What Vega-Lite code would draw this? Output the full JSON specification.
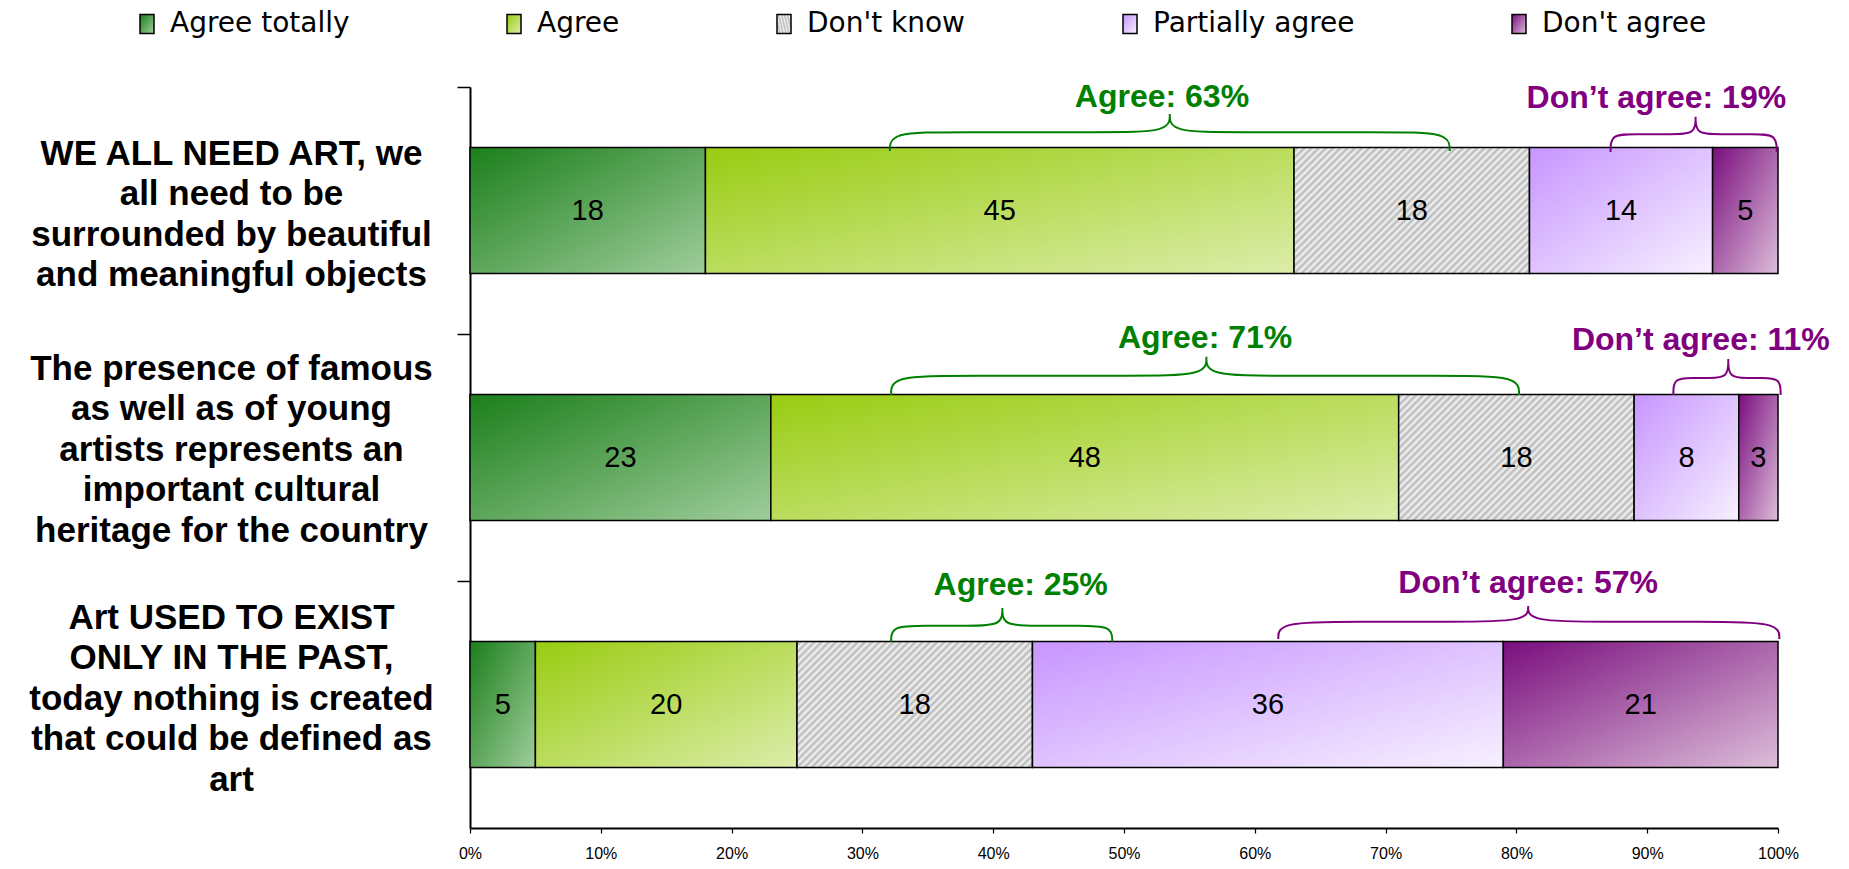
{
  "$schema": "https://vega.github.io/schema/vega-lite/v6.json",
  "autosize": {"type": "none"},
  "padding": {"left": 470, "top": 87, "right": 71, "bottom": 41},
  "width": 1308,
  "height": 741,
  "background": "white",
  "config": {"view": {"stroke": null}},
  "layer": [
    {
      "data": {
        "values": [
          {"q": "WE ALL NEED ART, we|all need to be|surrounded by beautiful|and meaningful objects", "r": "Agree totally", "o": 1, "v": 18},
          {"q": "WE ALL NEED ART, we|all need to be|surrounded by beautiful|and meaningful objects", "r": "Agree", "o": 2, "v": 45},
          {"q": "WE ALL NEED ART, we|all need to be|surrounded by beautiful|and meaningful objects", "r": "Don't know", "o": 3, "v": 18},
          {"q": "WE ALL NEED ART, we|all need to be|surrounded by beautiful|and meaningful objects", "r": "Partially agree", "o": 4, "v": 14},
          {"q": "WE ALL NEED ART, we|all need to be|surrounded by beautiful|and meaningful objects", "r": "Don't agree", "o": 5, "v": 5},
          {"q": "The presence of famous|as well as of young|artists represents an|important cultural|heritage for the country", "r": "Agree totally", "o": 1, "v": 23},
          {"q": "The presence of famous|as well as of young|artists represents an|important cultural|heritage for the country", "r": "Agree", "o": 2, "v": 48},
          {"q": "The presence of famous|as well as of young|artists represents an|important cultural|heritage for the country", "r": "Don't know", "o": 3, "v": 18},
          {"q": "The presence of famous|as well as of young|artists represents an|important cultural|heritage for the country", "r": "Partially agree", "o": 4, "v": 8},
          {"q": "The presence of famous|as well as of young|artists represents an|important cultural|heritage for the country", "r": "Don't agree", "o": 5, "v": 3},
          {"q": "Art USED TO EXIST|ONLY IN THE PAST,|today nothing is created|that could be defined as|art", "r": "Agree totally", "o": 1, "v": 5},
          {"q": "Art USED TO EXIST|ONLY IN THE PAST,|today nothing is created|that could be defined as|art", "r": "Agree", "o": 2, "v": 20},
          {"q": "Art USED TO EXIST|ONLY IN THE PAST,|today nothing is created|that could be defined as|art", "r": "Don't know", "o": 3, "v": 18},
          {"q": "Art USED TO EXIST|ONLY IN THE PAST,|today nothing is created|that could be defined as|art", "r": "Partially agree", "o": 4, "v": 36},
          {"q": "Art USED TO EXIST|ONLY IN THE PAST,|today nothing is created|that could be defined as|art", "r": "Don't agree", "o": 5, "v": 21}
        ]
      },
      "layer": [
        {
          "mark": {"type": "bar", "height": {"band": 0.51}, "stroke": "black", "strokeWidth": 1.5},
          "encoding": {
            "y": {
              "field": "q", "type": "nominal", "sort": null, "title": null,
              "scale": {"paddingInner": 0, "paddingOuter": 0},
              "axis": {
                "bandPosition": 0,
                "labelExpr": "split(datum.label, '|')",
                "labelAlign": "center",
                "labelBaseline": "middle",
                "labelPadding": 226,
                "labelOffset": {
                  "condition": [
                    {"test": "indexof(datum.value, 'WE ALL') === 0", "value": -57},
                    {"test": "indexof(datum.value, 'The presence') === 0", "value": -89}
                  ],
                  "value": -87
                },
                "labelFont": "Liberation Sans",
                "labelFontWeight": "bold",
                "labelFontSize": 35,
                "labelLineHeight": 40.5,
                "labelLimit": 0,
                "labelOverlap": false,
                "labelBound": false,
                "labelColor": "black",
                "tickSize": 13,
                "tickColor": "black",
                "tickWidth": 1.5,
                "domainColor": "black",
                "domainWidth": 2,
                "grid": false,
                "title": null
              }
            },
            "x": {
              "field": "v", "type": "quantitative", "stack": "zero", "title": null,
              "scale": {"domain": [0, 100], "nice": false},
              "axis": {
                "values": [0, 10, 20, 30, 40, 50, 60, 70, 80, 90, 100],
                "labelExpr": "datum.value + '%'",
                "labelFont": "Liberation Sans",
                "labelFontSize": 16,
                "labelColor": "black",
                "labelPadding": 12,
                "labelFlush": false,
                "labelOverlap": false,
                "tickColor": "black",
                "tickSize": 5,
                "tickWidth": 1.2,
                "domainColor": "black",
                "domainWidth": 2,
                "grid": false,
                "title": null
              }
            },
            "fill": {
              "field": "r", "type": "nominal", "title": null,
              "scale": {
                "domain": ["Agree totally", "Agree", "Don't know", "Partially agree", "Don't agree"],
                "range": [
                  {"expr": "{gradient:'linear',x1:0,y1:0,x2:1,y2:1,stops:[{offset:0,color:'#1b7f1b'},{offset:1,color:'#9fcd9b'}]}"},
                  {"expr": "{gradient:'linear',x1:0,y1:0,x2:1,y2:1,stops:[{offset:0,color:'#99cc11'},{offset:1,color:'#dcedaa'}]}"},
                  {"expr": "{gradient:'linear',x1:0,y1:0,x2:1.19,y2:0.637,stops:[{offset:0,color:'#f4f4f4'},{offset:0.01,color:'#b8b8b8'},{offset:0.02,color:'#f4f4f4'},{offset:0.03,color:'#b8b8b8'},{offset:0.04,color:'#f4f4f4'},{offset:0.05,color:'#b8b8b8'},{offset:0.06,color:'#f4f4f4'},{offset:0.07,color:'#b8b8b8'},{offset:0.08,color:'#f4f4f4'},{offset:0.09,color:'#b8b8b8'},{offset:0.1,color:'#f4f4f4'},{offset:0.11,color:'#b8b8b8'},{offset:0.12,color:'#f4f4f4'},{offset:0.13,color:'#b8b8b8'},{offset:0.14,color:'#f4f4f4'},{offset:0.15,color:'#b8b8b8'},{offset:0.16,color:'#f4f4f4'},{offset:0.17,color:'#b8b8b8'},{offset:0.18,color:'#f4f4f4'},{offset:0.19,color:'#b8b8b8'},{offset:0.2,color:'#f4f4f4'},{offset:0.21,color:'#b8b8b8'},{offset:0.22,color:'#f4f4f4'},{offset:0.23,color:'#b8b8b8'},{offset:0.24,color:'#f4f4f4'},{offset:0.25,color:'#b8b8b8'},{offset:0.26,color:'#f4f4f4'},{offset:0.27,color:'#b8b8b8'},{offset:0.28,color:'#f4f4f4'},{offset:0.29,color:'#b8b8b8'},{offset:0.3,color:'#f4f4f4'},{offset:0.31,color:'#b8b8b8'},{offset:0.32,color:'#f4f4f4'},{offset:0.33,color:'#b8b8b8'},{offset:0.34,color:'#f4f4f4'},{offset:0.35,color:'#b8b8b8'},{offset:0.36,color:'#f4f4f4'},{offset:0.37,color:'#b8b8b8'},{offset:0.38,color:'#f4f4f4'},{offset:0.39,color:'#b8b8b8'},{offset:0.4,color:'#f4f4f4'},{offset:0.41,color:'#b8b8b8'},{offset:0.42,color:'#f4f4f4'},{offset:0.43,color:'#b8b8b8'},{offset:0.44,color:'#f4f4f4'},{offset:0.45,color:'#b8b8b8'},{offset:0.46,color:'#f4f4f4'},{offset:0.47,color:'#b8b8b8'},{offset:0.48,color:'#f4f4f4'},{offset:0.49,color:'#b8b8b8'},{offset:0.5,color:'#f4f4f4'},{offset:0.51,color:'#b8b8b8'},{offset:0.52,color:'#f4f4f4'},{offset:0.53,color:'#b8b8b8'},{offset:0.54,color:'#f4f4f4'},{offset:0.55,color:'#b8b8b8'},{offset:0.56,color:'#f4f4f4'},{offset:0.57,color:'#b8b8b8'},{offset:0.58,color:'#f4f4f4'},{offset:0.59,color:'#b8b8b8'},{offset:0.6,color:'#f4f4f4'},{offset:0.61,color:'#b8b8b8'},{offset:0.62,color:'#f4f4f4'},{offset:0.63,color:'#b8b8b8'},{offset:0.64,color:'#f4f4f4'},{offset:0.65,color:'#b8b8b8'},{offset:0.66,color:'#f4f4f4'},{offset:0.67,color:'#b8b8b8'},{offset:0.68,color:'#f4f4f4'},{offset:0.69,color:'#b8b8b8'},{offset:0.7,color:'#f4f4f4'},{offset:0.71,color:'#b8b8b8'},{offset:0.72,color:'#f4f4f4'},{offset:0.73,color:'#b8b8b8'},{offset:0.74,color:'#f4f4f4'},{offset:0.75,color:'#b8b8b8'},{offset:0.76,color:'#f4f4f4'},{offset:0.77,color:'#b8b8b8'},{offset:0.78,color:'#f4f4f4'},{offset:0.79,color:'#b8b8b8'},{offset:0.8,color:'#f4f4f4'},{offset:0.81,color:'#b8b8b8'},{offset:0.82,color:'#f4f4f4'},{offset:0.83,color:'#b8b8b8'},{offset:0.84,color:'#f4f4f4'},{offset:0.85,color:'#b8b8b8'},{offset:0.86,color:'#f4f4f4'},{offset:0.87,color:'#b8b8b8'},{offset:0.88,color:'#f4f4f4'},{offset:0.89,color:'#b8b8b8'},{offset:0.9,color:'#f4f4f4'},{offset:0.91,color:'#b8b8b8'},{offset:0.92,color:'#f4f4f4'},{offset:0.93,color:'#b8b8b8'},{offset:0.94,color:'#f4f4f4'},{offset:0.95,color:'#b8b8b8'},{offset:0.96,color:'#f4f4f4'},{offset:0.97,color:'#b8b8b8'},{offset:0.98,color:'#f4f4f4'},{offset:0.99,color:'#b8b8b8'},{offset:1,color:'#f4f4f4'}]}"},
                  {"expr": "{gradient:'linear',x1:0,y1:0,x2:1,y2:1,stops:[{offset:0,color:'#c795ff'},{offset:1,color:'#f7f0ff'}]}"},
                  {"expr": "{gradient:'linear',x1:0,y1:0,x2:1,y2:1,stops:[{offset:0,color:'#7a0e7e'},{offset:1,color:'#dcbdd9'}]}"}
                ]
              },
              "legend": {
                "orient": "none",
                "legendX": -337,
                "legendY": -77,
                "direction": "horizontal",
                "title": null,
                "labelFont": "DejaVu Sans",
                "labelFontSize": 28,
                "labelColor": "black",
                "labelOffset": 9,
                "labelLimit": 0,
                "symbolType": "M-0.737,-1H0.737V1H-0.737Z",
                "symbolSize": 361,
                "symbolStrokeColor": "black",
                "symbolStrokeWidth": 1.5,
                "columnPadding": 150
              }
            },
            "order": {"field": "o", "type": "quantitative"}
          }
        },
        {
          "mark": {"type": "text", "font": "Liberation Sans", "fontSize": 29, "color": "black", "baseline": "middle", "align": "center"},
          "encoding": {
            "y": {"field": "q", "type": "nominal", "sort": null},
            "x": {"field": "v", "type": "quantitative", "stack": "zero", "bandPosition": 0.5, "scale": {"domain": [0, 100], "nice": false}},
            "detail": {"field": "r"},
            "order": {"field": "o", "type": "quantitative"},
            "text": {"field": "v", "type": "quantitative"}
          }
        }
      ]
    },
    {
      "layer": [
        {
          "data": {
            "values": [
              {"b": "B1", "side": "agree", "i": 0, "x": 32.1, "y": 0.259},
              {"b": "B1", "side": "agree", "i": 1, "x": 32.1, "y": 0.183},
              {"b": "B1", "side": "agree", "i": 2, "x": 37.1, "y": 0.183},
              {"b": "B1", "side": "agree", "i": 3, "x": 48.5, "y": 0.183},
              {"b": "B1", "side": "agree", "i": 4, "x": 53.5, "y": 0.183},
              {"b": "B1", "side": "agree", "i": 5, "x": 53.5, "y": 0.109},
              {"b": "B1", "side": "agree", "i": 6, "x": 53.5, "y": 0.109},
              {"b": "B1", "side": "agree", "i": 7, "x": 53.5, "y": 0.109},
              {"b": "B1", "side": "agree", "i": 8, "x": 53.5, "y": 0.183},
              {"b": "B1", "side": "agree", "i": 9, "x": 58.5, "y": 0.183},
              {"b": "B1", "side": "agree", "i": 10, "x": 69.9, "y": 0.183},
              {"b": "B1", "side": "agree", "i": 11, "x": 74.9, "y": 0.183},
              {"b": "B1", "side": "agree", "i": 12, "x": 74.9, "y": 0.259},
              {"b": "B2", "side": "disagree", "i": 0, "x": 87.2, "y": 0.263},
              {"b": "B2", "side": "disagree", "i": 1, "x": 87.2, "y": 0.191},
              {"b": "B2", "side": "disagree", "i": 2, "x": 89.0, "y": 0.191},
              {"b": "B2", "side": "disagree", "i": 3, "x": 91.9, "y": 0.191},
              {"b": "B2", "side": "disagree", "i": 4, "x": 93.7, "y": 0.191},
              {"b": "B2", "side": "disagree", "i": 5, "x": 93.7, "y": 0.12},
              {"b": "B2", "side": "disagree", "i": 6, "x": 93.7, "y": 0.12},
              {"b": "B2", "side": "disagree", "i": 7, "x": 93.7, "y": 0.12},
              {"b": "B2", "side": "disagree", "i": 8, "x": 93.7, "y": 0.191},
              {"b": "B2", "side": "disagree", "i": 9, "x": 95.5, "y": 0.191},
              {"b": "B2", "side": "disagree", "i": 10, "x": 98.1, "y": 0.191},
              {"b": "B2", "side": "disagree", "i": 11, "x": 99.9, "y": 0.191},
              {"b": "B2", "side": "disagree", "i": 12, "x": 99.9, "y": 0.263},
              {"b": "B3", "side": "agree", "i": 0, "x": 32.2, "y": 1.247},
              {"b": "B3", "side": "agree", "i": 1, "x": 32.2, "y": 1.169},
              {"b": "B3", "side": "agree", "i": 2, "x": 37.7, "y": 1.169},
              {"b": "B3", "side": "agree", "i": 3, "x": 50.8, "y": 1.169},
              {"b": "B3", "side": "agree", "i": 4, "x": 56.3, "y": 1.169},
              {"b": "B3", "side": "agree", "i": 5, "x": 56.3, "y": 1.092},
              {"b": "B3", "side": "agree", "i": 6, "x": 56.3, "y": 1.092},
              {"b": "B3", "side": "agree", "i": 7, "x": 56.3, "y": 1.092},
              {"b": "B3", "side": "agree", "i": 8, "x": 56.3, "y": 1.169},
              {"b": "B3", "side": "agree", "i": 9, "x": 61.8, "y": 1.169},
              {"b": "B3", "side": "agree", "i": 10, "x": 74.7, "y": 1.169},
              {"b": "B3", "side": "agree", "i": 11, "x": 80.2, "y": 1.169},
              {"b": "B3", "side": "agree", "i": 12, "x": 80.2, "y": 1.247},
              {"b": "B4", "side": "disagree", "i": 0, "x": 92.0, "y": 1.247},
              {"b": "B4", "side": "disagree", "i": 1, "x": 92.0, "y": 1.178},
              {"b": "B4", "side": "disagree", "i": 2, "x": 93.5, "y": 1.178},
              {"b": "B4", "side": "disagree", "i": 3, "x": 94.7, "y": 1.178},
              {"b": "B4", "side": "disagree", "i": 4, "x": 96.2, "y": 1.178},
              {"b": "B4", "side": "disagree", "i": 5, "x": 96.2, "y": 1.101},
              {"b": "B4", "side": "disagree", "i": 6, "x": 96.2, "y": 1.101},
              {"b": "B4", "side": "disagree", "i": 7, "x": 96.2, "y": 1.101},
              {"b": "B4", "side": "disagree", "i": 8, "x": 96.2, "y": 1.178},
              {"b": "B4", "side": "disagree", "i": 9, "x": 97.7, "y": 1.178},
              {"b": "B4", "side": "disagree", "i": 10, "x": 98.7, "y": 1.178},
              {"b": "B4", "side": "disagree", "i": 11, "x": 100.2, "y": 1.178},
              {"b": "B4", "side": "disagree", "i": 12, "x": 100.2, "y": 1.247},
              {"b": "B5", "side": "agree", "i": 0, "x": 32.2, "y": 2.246},
              {"b": "B5", "side": "agree", "i": 1, "x": 32.2, "y": 2.181},
              {"b": "B5", "side": "agree", "i": 2, "x": 34.8, "y": 2.181},
              {"b": "B5", "side": "agree", "i": 3, "x": 38.1, "y": 2.181},
              {"b": "B5", "side": "agree", "i": 4, "x": 40.7, "y": 2.181},
              {"b": "B5", "side": "agree", "i": 5, "x": 40.7, "y": 2.109},
              {"b": "B5", "side": "agree", "i": 6, "x": 40.7, "y": 2.109},
              {"b": "B5", "side": "agree", "i": 7, "x": 40.7, "y": 2.109},
              {"b": "B5", "side": "agree", "i": 8, "x": 40.7, "y": 2.181},
              {"b": "B5", "side": "agree", "i": 9, "x": 43.3, "y": 2.181},
              {"b": "B5", "side": "agree", "i": 10, "x": 46.5, "y": 2.181},
              {"b": "B5", "side": "agree", "i": 11, "x": 49.1, "y": 2.181},
              {"b": "B5", "side": "agree", "i": 12, "x": 49.1, "y": 2.246},
              {"b": "B6", "side": "disagree", "i": 0, "x": 61.8, "y": 2.235},
              {"b": "B6", "side": "disagree", "i": 1, "x": 61.8, "y": 2.165},
              {"b": "B6", "side": "disagree", "i": 2, "x": 67.8, "y": 2.165},
              {"b": "B6", "side": "disagree", "i": 3, "x": 74.9, "y": 2.165},
              {"b": "B6", "side": "disagree", "i": 4, "x": 80.9, "y": 2.165},
              {"b": "B6", "side": "disagree", "i": 5, "x": 80.9, "y": 2.101},
              {"b": "B6", "side": "disagree", "i": 6, "x": 80.9, "y": 2.101},
              {"b": "B6", "side": "disagree", "i": 7, "x": 80.9, "y": 2.101},
              {"b": "B6", "side": "disagree", "i": 8, "x": 80.9, "y": 2.165},
              {"b": "B6", "side": "disagree", "i": 9, "x": 86.9, "y": 2.165},
              {"b": "B6", "side": "disagree", "i": 10, "x": 94.1, "y": 2.165},
              {"b": "B6", "side": "disagree", "i": 11, "x": 100.1, "y": 2.165},
              {"b": "B6", "side": "disagree", "i": 12, "x": 100.1, "y": 2.235}
            ]
          },
          "mark": {"type": "line", "interpolate": "basis", "strokeWidth": 2},
          "encoding": {
            "x": {"field": "x", "type": "quantitative", "scale": {"domain": [0, 100], "nice": false}},
            "y": {"field": "y", "type": "quantitative", "scale": {"domain": [0, 3], "reverse": true, "nice": false, "zero": false}, "axis": null},
            "detail": {"field": "b"},
            "order": {"field": "i", "type": "quantitative"},
            "stroke": {"field": "side", "type": "nominal", "scale": {"domain": ["agree", "disagree"], "range": ["#008000", "#800080"]}, "legend": null}
          }
        },
        {
          "data": {
            "values": [
              {"t": "Agree: 63%", "side": "agree", "x": 52.9, "y": 0.082},
              {"t": "Don’t agree: 19%", "side": "disagree", "x": 90.7, "y": 0.085},
              {"t": "Agree: 71%", "side": "agree", "x": 56.2, "y": 1.058},
              {"t": "Don’t agree: 11%", "side": "disagree", "x": 94.1, "y": 1.065},
              {"t": "Agree: 25%", "side": "agree", "x": 42.1, "y": 2.057},
              {"t": "Don’t agree: 57%", "side": "disagree", "x": 80.9, "y": 2.05}
            ]
          },
          "mark": {"type": "text", "font": "Liberation Sans", "fontWeight": "bold", "fontSize": 32, "align": "center", "baseline": "alphabetic"},
          "encoding": {
            "x": {"field": "x", "type": "quantitative", "scale": {"domain": [0, 100], "nice": false}},
            "y": {"field": "y", "type": "quantitative", "scale": {"domain": [0, 3], "reverse": true, "nice": false, "zero": false}, "axis": null},
            "text": {"field": "t"},
            "color": {"field": "side", "type": "nominal", "scale": {"domain": ["agree", "disagree"], "range": ["#008000", "#800080"]}, "legend": null}
          }
        }
      ]
    }
  ],
  "resolve": {"scale": {"y": "independent"}}
}
